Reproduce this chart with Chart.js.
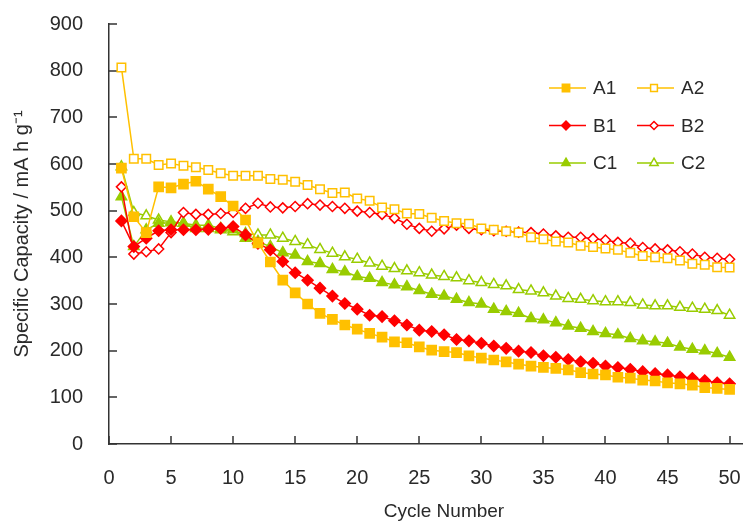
<!DOCTYPE html>
<html>
<head>
<meta charset="utf-8">
<script src="https://cdn.jsdelivr.net/npm/chart.js@4.4.1/dist/chart.umd.min.js"></script>
<style>
  html, body { margin: 0; padding: 0; background: #fff; }
</style>
</head>
<body>
<canvas id="myChart" width="750" height="522"></canvas>
<script>
// cycle numbers (x) and specific capacities (mA h g-1)
var cycles = [1, 2, 3, 4, 5, 6, 7, 8, 9, 10, 11, 12, 13, 14, 15, 16, 17, 18, 19, 20,
    21, 22, 23, 24, 25, 26, 27, 28, 29, 30, 31, 32, 33, 34, 35, 36, 37, 38, 39, 40,
    41, 42, 43, 44, 45, 46, 47, 48, 49, 50];

var a1 = [591, 487, 453, 551, 549, 557, 563, 546, 530, 510, 480, 431, 390, 351, 324, 300, 280, 267, 255, 246,
    237, 229, 219, 217, 208, 201, 198, 196, 189, 184, 180, 176, 171, 167, 164, 162, 159, 153, 150, 148,
    143, 141, 137, 135, 131, 129, 126, 121, 119, 117];
var a2 = [807, 611, 611, 598, 601, 596, 593, 587, 580, 575, 575, 575, 568, 566, 562, 555, 546, 538, 539, 526,
    521, 507, 503, 494, 493, 485, 478, 473, 472, 462, 459, 456, 453, 443, 439, 434, 432, 425, 422, 419,
    416, 410, 403, 400, 398, 393, 386, 384, 379, 378];
var b1 = [478, 423, 441, 457, 459, 459, 459, 460, 462, 466, 448, 430, 416, 391, 367, 351, 334, 317, 301, 289,
    276, 273, 264, 255, 244, 241, 234, 224, 221, 216, 210, 205, 199, 196, 189, 186, 181, 176, 173, 167,
    164, 160, 155, 151, 148, 144, 141, 136, 131, 129];
var b2 = [551, 407, 412, 418, 453, 496, 492, 492, 494, 496, 505, 516, 508, 506, 509, 515, 512, 509, 505, 499,
    496, 492, 484, 471, 462, 456, 461, 469, 462, 459, 457, 456, 454, 453, 450, 446, 443, 443, 440, 437,
    432, 430, 421, 418, 416, 412, 407, 400, 398, 396];
var c1 = [530, 423, 459, 473, 474, 473, 469, 469, 462, 459, 441, 434, 423, 410, 405, 391, 387, 374, 369, 359,
    355, 346, 341, 337, 329, 321, 317, 310, 303, 300, 289, 284, 280, 269, 266, 260, 253, 248, 241, 237,
    234, 226, 221, 219, 216, 208, 203, 200, 194, 186];
var c2 = [594, 496, 489, 480, 476, 473, 462, 462, 459, 455, 451, 448, 448, 441, 434, 427, 417, 409, 401, 396,
    388, 381, 376, 371, 367, 362, 359, 356, 350, 346, 342, 339, 331, 328, 324, 317, 312, 310, 307, 305,
    305, 303, 298, 296, 296, 293, 291, 289, 286, 276];

var xTicks = [0, 5, 10, 15, 20, 25, 30, 35, 40, 45, 50];
var yTicks = [0, 100, 200, 300, 400, 500, 600, 700, 800, 900];

var gold = "#FFC000";
var red = "#FF0000";
var green = "#99CC00";
var textColor = "#2a2a2a";
var fontFamily = "'Liberation Sans', Arial, sans-serif";

function pts(values) {
    return values.map(function (v, i) { return { x: cycles[i], y: v }; });
}

function series(label, values, color, shape, filled, radius) {
    return {
        label: label,
        data: pts(values),
        borderColor: color,
        backgroundColor: filled ? color : "#fff",
        pointStyle: shape,
        pointRadius: radius,
        pointBorderWidth: 1.5,
        pointBorderColor: color,
        pointBackgroundColor: filled ? color : "#fff",
        borderWidth: 1.5,
        tension: 0
    };
}

var datasets = [
    series("A1", a1, gold, "rect", true, 6.5),
    series("A2", a2, gold, "rect", false, 6),
    series("B1", b1, red, "rectRot", true, 5.5),
    series("B2", b2, red, "rectRot", false, 5),
    series("C1", c1, green, "triangle", true, 6),
    series("C2", c2, green, "triangle", false, 6)
];

// tick marks drawn inside the plot, as in the original
var innerTicks = {
    id: "innerTicks",
    beforeDatasetsDraw: function (chart) {
        var ctx = chart.ctx;
        var area = chart.chartArea;
        var xs = chart.scales.x;
        var ys = chart.scales.y;
        ctx.save();
        ctx.strokeStyle = "#333";
        ctx.lineWidth = 1.5;
        ctx.beginPath();
        xTicks.forEach(function (v) {
            var px = Math.round(xs.getPixelForValue(v));
            ctx.moveTo(px, area.bottom);
            ctx.lineTo(px, area.bottom - 8);
        });
        yTicks.forEach(function (v) {
            var py = Math.round(ys.getPixelForValue(v));
            ctx.moveTo(area.left, py);
            ctx.lineTo(area.left + 8, py);
        });
        ctx.stroke();

        // x axis title, centred a bit right of the plot like the source
        ctx.fillStyle = textColor;
        ctx.font = "19px " + fontFamily;
        ctx.textAlign = "center";
        ctx.textBaseline = "middle";
        ctx.fillText("Cycle Number", area.left + 335, 512);
        ctx.restore();
    }
};

// two-column legend in the upper right
var gridLegend = {
    id: "gridLegend",
    afterDraw: function (chart) {
        var ctx = chart.ctx;
        var left = chart.chartArea.left + 440;
        var top = chart.chartArea.top + 64;
        ctx.save();
        ctx.font = "19px " + fontFamily;
        ctx.textBaseline = "middle";
        chart.data.datasets.forEach(function (ds, i) {
            var col = i % 2;
            var row = Math.floor(i / 2);
            var x = left + col * 88;
            var y = top + row * 37.5;
            ctx.strokeStyle = ds.borderColor;
            ctx.lineWidth = 1.5;
            ctx.beginPath();
            ctx.moveTo(x, y);
            ctx.lineTo(x + 37, y);
            ctx.stroke();
            ctx.fillStyle = ds.pointBackgroundColor;
            ctx.strokeStyle = ds.pointBorderColor;
            Chart.helpers.drawPoint(ctx, {
                pointStyle: ds.pointStyle,
                radius: ds.pointRadius * 0.8,
                borderWidth: 1.5,
                rotation: 0
            }, x + 17, y);
            ctx.fillStyle = textColor;
            ctx.fillText(ds.label, x + 44, y + 1);
        });
        ctx.restore();
    }
};

new Chart("myChart", {
    type: "line",
    data: { datasets: datasets },
    plugins: [innerTicks, gridLegend],
    options: {
        responsive: false,
        animation: false,
        layout: { padding: { top: 24, right: 6, bottom: 0, left: 0 } },
        plugins: {
            legend: { display: false },
            tooltip: { enabled: false }
        },
        scales: {
            x: {
                type: "linear",
                min: 0,
                max: 51,
                afterBuildTicks: function (scale) {
                    scale.ticks = xTicks.map(function (v) { return { value: v }; });
                },
                afterFit: function (scale) { scale.height = 78; },
                grid: { display: true, drawOnChartArea: false, drawTicks: true, tickLength: 20, tickColor: "rgba(0,0,0,0)" },
                border: { color: "#333", width: 1.5 },
                ticks: {
                    color: textColor,
                    font: { size: 20, family: fontFamily },
                    padding: 2,
                    maxRotation: 0,
                    autoSkip: false
                }
            },
            y: {
                min: 0,
                max: 900,
                afterBuildTicks: function (scale) {
                    scale.ticks = yTicks.map(function (v) { return { value: v }; });
                },
                afterFit: function (scale) { scale.width = 109; },
                grid: { display: true, drawOnChartArea: false, drawTicks: true, tickLength: 24, tickColor: "rgba(0,0,0,0)" },
                border: { color: "#333", width: 1.5 },
                ticks: {
                    color: textColor,
                    font: { size: 20, family: fontFamily },
                    padding: 2
                },
                title: {
                    display: true,
                    text: "Specific Capacity / mA h g\u207B\u00B9",
                    color: textColor,
                    font: { size: 20, family: fontFamily },
                    padding: { top: 10, bottom: 0 }
                }
            }
        }
    }
});
</script>
</body>
</html>
